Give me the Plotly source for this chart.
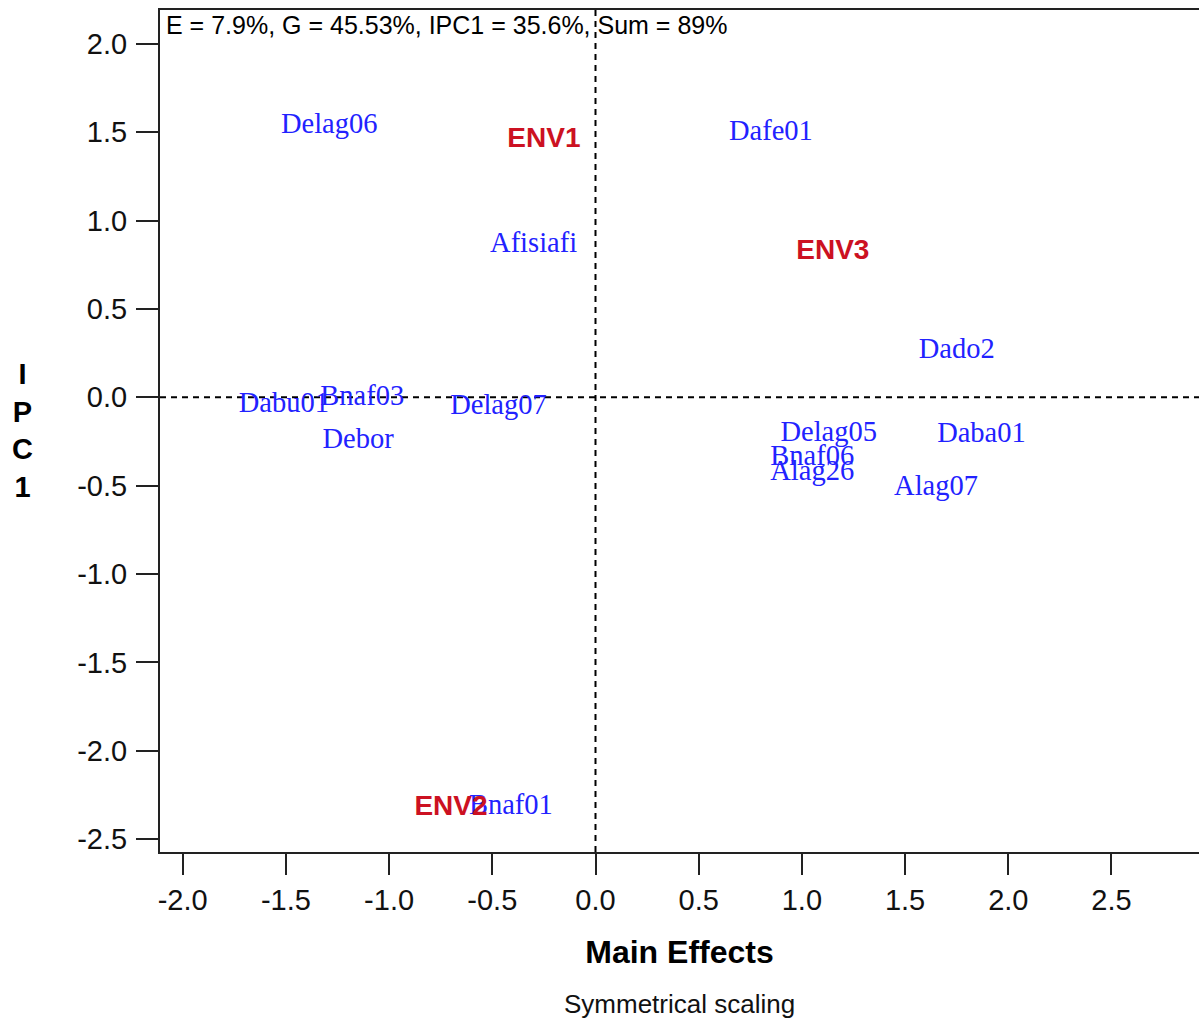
import plotly.graph_objects as go

# ---- data ----
genotypes = ["Delag06", "Dafe01", "Afisiafi", "Dado2", "Dabu01", "Bnaf03", "Delag07",
             "Debor", "Delag05", "Daba01", "Bnaf06", "Alag26", "Alag07", "Bnaf01"]
geno_main = [-1.29, 0.85, -0.30, 1.75, -1.51, -1.13, -0.47,
             -1.15, 1.13, 1.87, 1.05, 1.05, 1.65, -0.41]
geno_ipc1 = [1.535, 1.495, 0.865, 0.265, -0.045, -0.005, -0.055,
             -0.245, -0.205, -0.215, -0.345, -0.425, -0.515, -2.315]

environments = ["ENV1", "ENV2", "ENV3"]
env_main = [-0.25, -0.70, 1.15]
env_ipc1 = [1.455, -2.325, 0.825]

x_ticks = [-2.0, -1.5, -1.0, -0.5, 0.0, 0.5, 1.0, 1.5, 2.0, 2.5]
y_ticks = [2.0, 1.5, 1.0, 0.5, 0.0, -0.5, -1.0, -1.5, -2.0, -2.5]
x_range = [-2.11, 2.924]
y_range = [-2.573, 2.192]

summary_text = "E = 7.9%, G = 45.53%, IPC1 = 35.6%, Sum = 89%"

fig = go.Figure()

fig.add_trace(go.Scatter(
    x=geno_main, y=geno_ipc1, text=genotypes, mode="text",
    textposition="middle center",
    textfont=dict(family="Liberation Serif, Times New Roman, serif", size=28.5, color="#2222ff"),
    showlegend=False, hoverinfo="skip"))

fig.add_trace(go.Scatter(
    x=env_main, y=env_ipc1, text=environments, mode="text",
    textposition="middle center",
    textfont=dict(family="Liberation Sans, Arial, sans-serif", size=28, color="#cc1122",
                  weight="bold"),
    showlegend=False, hoverinfo="skip"))

# dashed reference lines at origin
fig.add_shape(type="line", xref="x", yref="paper", x0=0, x1=0, y0=0, y1=1,
              line=dict(color="black", width=2, dash="6px,5px"), layer="below")
fig.add_shape(type="line", xref="paper", yref="y", x0=0, x1=1, y0=0, y1=0,
              line=dict(color="black", width=2, dash="6px,5px"), layer="below")

axis_font = dict(family="Liberation Sans, Arial, sans-serif", size=29, color="#111")

fig.update_xaxes(
    range=x_range, tickvals=x_ticks, ticktext=[f"{v:.1f}" for v in x_ticks],
    showgrid=False, zeroline=False, showline=True, mirror=True,
    linecolor="#222", linewidth=2, ticks="outside", ticklen=21, tickwidth=2,
    tickcolor="#222", tickfont=axis_font, ticklabelstandoff=0,
    title=dict(text="<b>Main Effects</b>", standoff=26,
               font=dict(family="Liberation Sans, Arial, sans-serif", size=32, color="black")))

fig.update_yaxes(
    range=y_range, tickvals=y_ticks, ticktext=[f"{v:.1f}" for v in y_ticks],
    showgrid=False, zeroline=False, showline=True, mirror=False,
    linecolor="#222", linewidth=2, ticks="outside", ticklen=22, tickwidth=2,
    tickcolor="#222", tickfont=axis_font, ticklabelstandoff=3)

fig.add_annotation(text="<b>I<br>P<br>C<br>1</b>", xref="paper", yref="paper",
                   x=-0.132, y=0.501, xanchor="center", yanchor="middle", showarrow=False,
                   font=dict(family="Liberation Sans, Arial, sans-serif", size=29, color="black"))

fig.add_annotation(text=summary_text, xref="paper", yref="paper",
                   x=0.004, y=0.982, xanchor="left", yanchor="middle", showarrow=False,
                   font=dict(family="Liberation Sans, Arial, sans-serif", size=25, color="black"))

fig.add_annotation(text="Symmetrical scaling", xref="paper", yref="paper",
                   x=0.5, y=-0.180, xanchor="center", yanchor="middle", showarrow=False,
                   font=dict(family="Liberation Sans, Arial, sans-serif", size=26, color="#111"))

fig.update_layout(
    width=1199, height=1019,
    margin=dict(l=160, r=0, t=10, b=167),
    paper_bgcolor="white", plot_bgcolor="white",
    showlegend=False)

fig.write_html("out.html")
